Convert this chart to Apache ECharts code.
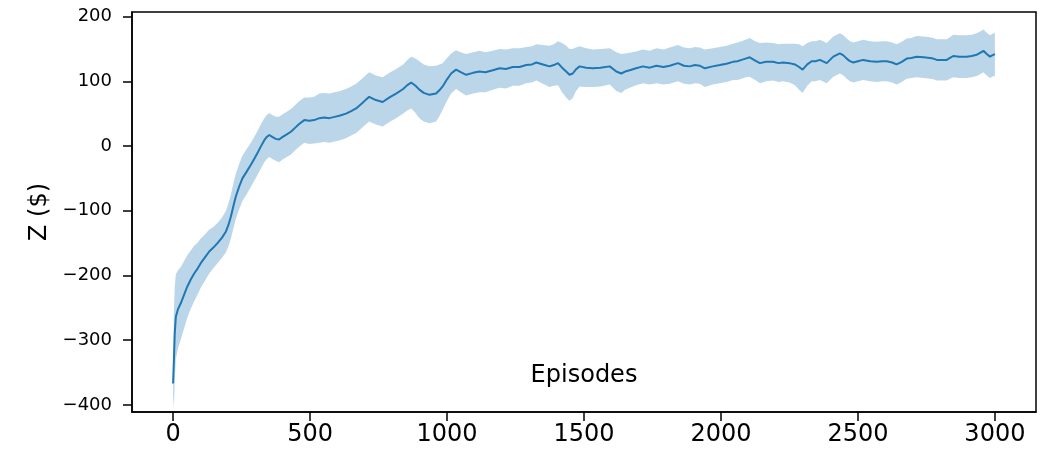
<!DOCTYPE html>
<html>
<head>
<meta charset="utf-8">
<script src="https://cdn.jsdelivr.net/npm/echarts@6/dist/echarts.min.js"></script>
<style>
  html, body { margin: 0; padding: 0; background: #fff; }
  #chart { width: 1051px; height: 457px; }
</style>
</head>
<body>
<div id="chart"></div>
<script>
// episode positions
const episodes = [
  0, 3, 6, 10, 18, 28, 40, 52, 65, 77,
  90, 101, 115, 132, 147, 162, 178, 193, 202, 211,
  220, 229, 241, 253, 268, 284, 296, 308, 320, 333,
  342, 351, 362, 375, 387, 400, 415, 430, 445, 460,
  479, 497, 515, 534, 552, 570, 590, 610, 631, 650,
  668, 690, 705, 716, 740, 765, 790, 814, 840, 855,
  869, 885, 899, 915, 936, 960, 972, 984, 1000, 1015,
  1033, 1050, 1070, 1095, 1118, 1140, 1167, 1192, 1215, 1240,
  1265, 1289, 1310, 1326, 1350, 1374, 1390, 1405, 1420, 1435,
  1447, 1459, 1470, 1484, 1508, 1532, 1560, 1594, 1618, 1636,
  1650, 1667, 1690, 1715, 1740, 1764, 1790, 1813, 1843, 1865,
  1886, 1905, 1922, 1941, 1970, 1996, 2020, 2044, 2060, 2075,
  2090, 2105, 2125, 2142, 2165, 2190, 2210, 2227, 2250, 2270,
  2285, 2298, 2315, 2331, 2345, 2361, 2386, 2410, 2434, 2447,
  2459, 2471, 2483, 2500, 2519, 2545, 2568, 2590, 2605, 2625,
  2641, 2660, 2678, 2695, 2714, 2740, 2763, 2775, 2788, 2810,
  2824, 2836, 2848, 2870, 2897, 2915, 2934, 2946, 2958, 2970,
  2982, 2990, 3000
]

// mean Z ($)
const meanZ = [
  -367, -330, -290, -264, -252, -243, -230, -217, -206, -197,
  -189, -181, -173, -163, -157, -150, -142, -132, -122, -109,
  -93, -78, -63, -50, -40, -29, -20, -11, -1, 9,
  14, 17, 14, 11, 10, 14, 18, 22, 28, 34,
  40, 39, 40, 43, 44, 43, 45, 47, 50, 54,
  58, 66, 72, 76, 71, 68, 75, 81, 88, 94,
  98, 93, 87, 82, 79, 81, 86, 92, 103, 112,
  118, 114, 110, 113, 115, 114, 117, 120, 119, 122,
  122, 125, 126, 129, 126, 123, 125, 128, 121, 115,
  110, 112, 118, 123, 121, 120, 121, 123, 115, 112,
  115, 117, 120, 123, 121, 124, 122, 124, 128, 124,
  123, 125, 124, 120, 123, 125, 127, 130, 131, 133,
  135, 137, 132, 128, 130, 130, 128, 129, 128, 126,
  122, 118, 126, 131, 131, 133, 128, 138, 143, 140,
  135, 131, 129, 131, 133, 131, 130, 131, 131, 129,
  126, 130, 135, 136, 138, 137, 136, 135, 133, 133,
  133, 136, 139, 138, 138, 139, 141, 144, 147, 142,
  138, 140, 142
]

// half width of the shaded band
const spreadZ = [
  20, 75, 72, 66, 60, 56, 52, 48, 45, 43,
  40, 38, 36, 34, 32, 31, 31, 32, 33, 34,
  35, 35, 35, 35, 35, 34, 34, 34, 34, 34,
  34, 34, 34, 34, 35, 35, 35, 35, 35, 35,
  35, 36, 36, 38, 38, 38, 38, 38, 38, 38,
  38, 38, 38, 38, 38, 38, 38, 38, 38, 39,
  40, 42, 44, 44, 44, 43, 40, 36, 33, 31,
  30, 31, 32, 32, 32, 31, 30, 30, 30, 29,
  29, 28, 28, 28, 30, 32, 32, 34, 38, 40,
  40, 38, 34, 31, 30, 29, 29, 28, 30, 30,
  28, 27, 26, 26, 26, 27, 27, 28, 28, 28,
  28, 28, 28, 29, 28, 28, 28, 28, 29, 29,
  29, 30, 30, 31, 30, 29, 29, 29, 30, 32,
  35, 36, 33, 31, 31, 31, 31, 31, 31, 31,
  31, 31, 31, 31, 31, 31, 31, 31, 31, 31,
  31, 31, 31, 31, 32, 32, 32, 32, 32, 32,
  32, 32, 33, 33, 33, 33, 33, 33, 33, 33,
  33, 33, 33
]

const xTicks = [0, 500, 1000, 1500, 2000, 2500, 3000]
const yTicks = [-400, -300, -200, -100, 0, 100, 200]

const chart = echarts.init(document.getElementById('chart'))

const font = 'DejaVu Sans'
const minus = v => (v < 0 ? '\u2212' + Math.abs(v) : String(v))

const option = {
  animation: false,
  grid: {
    left: 132, right: 15, top: 12, bottom: 45,
    show: true, borderColor: '#000', borderWidth: 1.5, backgroundColor: 'transparent'
  },
  xAxis: {
    type: 'value',
    min: -150,
    max: 3150,
    name: 'Episodes',
    nameLocation: 'middle',
    nameGap: -48,
    nameTextStyle: { fontFamily: font, fontSize: 24, color: '#000' },
    splitLine: { show: false },
    axisLine: { onZero: false, lineStyle: { color: '#000', width: 1.5 } },
    axisTick: { customValues: xTicks, length: 9, lineStyle: { color: '#000', width: 1.5 } },
    axisLabel: { customValues: xTicks, fontFamily: font, fontSize: 24, color: '#000', margin: 11, formatter: v => String(v) }
  },
  yAxis: {
    type: 'value',
    min: -411,
    max: 207,
    name: 'Z ($)',
    nameLocation: 'middle',
    nameRotate: 90,
    nameGap: 76,
    nameTextStyle: { fontFamily: font, fontSize: 24, color: '#000' },
    splitLine: { show: false },
    axisLine: { show: true, onZero: false, lineStyle: { color: '#000', width: 1.5 } },
    axisTick: { show: true, customValues: yTicks, length: 9, lineStyle: { color: '#000', width: 1.5 } },
    axisLabel: { customValues: yTicks, fontFamily: font, fontSize: 18, color: '#000', margin: 20, formatter: minus }
  },
  series: [
    {
      // shaded band: mean ± spread
      type: 'custom',
      data: [[0, 0]],
      clip: true,
      renderItem: (params, api) => {
        const upper = []
        const lower = []
        for (let i = 0; i < episodes.length; i++) {
          upper.push(api.coord([episodes[i], meanZ[i] + spreadZ[i]]))
          lower.push(api.coord([episodes[i], meanZ[i] - spreadZ[i]]))
        }
        return {
          type: 'polygon',
          shape: { points: upper.concat(lower.reverse()) },
          style: { fill: 'rgba(31,119,180,0.3)' }
        }
      }
    },
    {
      type: 'line',
      showSymbol: false,
      data: episodes.map((e, i) => [e, meanZ[i]]),
      lineStyle: { color: '#1f77b4', width: 2 },
      itemStyle: { color: '#1f77b4' }
    }
  ]
}

chart.setOption(option)
</script>
</body>
</html>
